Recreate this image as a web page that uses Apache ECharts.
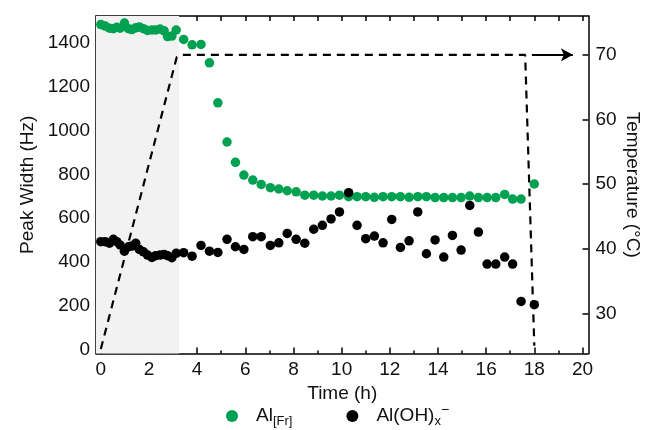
<!DOCTYPE html>
<html>
<head>
<meta charset="utf-8">
<script src="https://cdn.jsdelivr.net/npm/echarts@6.0.0/dist/echarts.min.js"></script>
<style>
html, body { margin: 0; padding: 0; background: #fff; }
#chart { width: 646px; height: 430px; }
</style>
</head>
<body>
<div id="chart"></div>
<script>
// heating phase, dense sampling (h)
var earlyTimes = [0, 0.18, 0.36, 0.52, 0.66, 0.8, 0.98, 1.15, 1.29, 1.45, 1.6, 1.77, 1.94, 2.12, 2.28, 2.46, 2.63, 2.77, 2.95, 3.13];
// after heating (h)
var laterTimes = [3.44, 3.79, 4.16, 4.51, 4.86, 5.24, 5.59, 5.94, 6.31, 6.66, 7.04, 7.39, 7.74, 8.11, 8.47, 8.84, 9.2, 9.56, 9.91, 10.29,
	10.64, 11.0, 11.36, 11.72, 12.08, 12.44, 12.8, 13.16, 13.52, 13.88, 14.24, 14.6, 14.96, 15.32, 15.68, 16.04, 16.4, 16.77, 17.1, 17.45, 18.0];

// Al[Fr] peak width (Hz)
var frEarly = [1485, 1478, 1468, 1466, 1472, 1468, 1492, 1466, 1462, 1470, 1474, 1466, 1458, 1460, 1460, 1464, 1456, 1430, 1432, 1460];
var frLater = [1417, 1392, 1394, 1310, 1127, 948, 855, 797, 774, 754, 739, 733, 725, 720, 705, 705, 701, 701, 705, 698,
	698, 698, 695, 698, 698, 698, 695, 698, 698, 694, 694, 694, 694, 701, 694, 694, 694, 708, 687, 687, 756];

// Al(OH)x- peak width (Hz)
var ohEarly = [492, 492, 485, 503, 492, 477, 449, 469, 472, 485, 457, 446, 431, 420, 428, 431, 434, 428, 419, 439];
var ohLater = [442, 426, 475, 449, 443, 503, 469, 457, 515, 515, 475, 487, 530, 503, 485, 549, 567, 596, 628, 716,
	567, 506, 518, 487, 594, 466, 496, 628, 437, 500, 422, 521, 454, 658, 536, 390, 390, 422, 390, 219, 204];

// temperature program (°C)
var tempTimes = [0, 3.15, 3.4, 17.62, 18.0];
var tempValues = [24.5, 69.6, 70, 70, 25];
var arrowTimes = [17.9, 19.6];
var arrowTemp = 70;
var heatedUntil = 3.25;

// ticks
var timeLabels = [0, 2, 4, 6, 8, 10, 12, 14, 16, 18, 20];
var timeMinor = [1, 3, 5, 7, 9, 11, 13, 15, 17, 19];
var timeAll = [0, 1, 2, 3, 4, 5, 6, 7, 8, 9, 10, 11, 12, 13, 14, 15, 16, 17, 18, 19, 20];
var hzLabels = [0, 200, 400, 600, 800, 1000, 1200, 1400];
var hzMinor = [100, 300, 500, 700, 900, 1100, 1300, 1500];
var tempLabels = [30, 40, 50, 60, 70];

var names = ['Al[Fr]', 'Al(OH)x\u2212'];

function pairs(xs, ys) {
	return xs.map(function(x, i) { return [x, ys[i]]; });
}
function plain(v) { return String(v); }

var FONT = '"Liberation Sans", Arial, sans-serif';
var INK = '#111';
var axisLine = { show: true, onZero: false, lineStyle: { color: '#000', width: 1.5 } };
var noLine = { show: false, onZero: false };
var tickStyle = { color: '#000', width: 1.5 };
var labelStyle = { fontSize: 19, color: INK, fontFamily: FONT };

var xRange = { min: -0.2, max: 20.25 };
var hzRange = { min: -19, max: 1524 };
var tempRange = { min: 23.8, max: 76 };

var chart = echarts.init(document.getElementById('chart'));

chart.setOption({
	animation: false,
	textStyle: { fontFamily: FONT },
	grid: { left: 96, right: 57.5, top: 16, bottom: 76.5, outerBoundsMode: 'none' },
	xAxis: [
		{
			type: 'value', min: xRange.min, max: xRange.max, position: 'bottom',
			name: 'Time (h)', nameLocation: 'middle', nameGap: 27,
			nameTextStyle: labelStyle,
			axisLine: axisLine,
			axisTick: { inside: true, length: 6, customValues: timeLabels, lineStyle: tickStyle },
			axisLabel: { customValues: timeLabels, formatter: plain, margin: 7, fontSize: 19, color: INK, fontFamily: FONT },
			splitLine: { show: false }
		},
		{
			type: 'value', min: xRange.min, max: xRange.max, position: 'bottom',
			axisLine: noLine,
			axisTick: { inside: true, length: 3, customValues: timeMinor, lineStyle: tickStyle },
			axisLabel: { show: false },
			splitLine: { show: false }
		},
		{
			type: 'value', min: xRange.min, max: xRange.max, position: 'top',
			axisLine: axisLine,
			axisTick: { inside: true, length: 5, customValues: timeAll, lineStyle: tickStyle },
			axisLabel: { show: false },
			splitLine: { show: false }
		}
	],
	yAxis: [
		{
			type: 'value', min: hzRange.min, max: hzRange.max, position: 'left',
			name: 'Peak Width (Hz)', nameLocation: 'middle', nameGap: 52,
			nameTextStyle: labelStyle,
			axisLine: axisLine,
			axisTick: { inside: true, length: 6, customValues: hzLabels, lineStyle: tickStyle },
			axisLabel: { customValues: hzLabels, formatter: plain, margin: 6, fontSize: 19, color: INK, fontFamily: FONT },
			splitLine: { show: false }
		},
		{
			type: 'value', min: hzRange.min, max: hzRange.max, position: 'left',
			axisLine: noLine,
			axisTick: { inside: true, length: 3, customValues: hzMinor, lineStyle: tickStyle },
			axisLabel: { show: false },
			splitLine: { show: false }
		},
		{
			type: 'value', min: tempRange.min, max: tempRange.max, position: 'right',
			name: 'Temperature (\u00b0C)', nameLocation: 'middle', nameRotate: -90, nameGap: 34,
			nameMoveOverlap: false,
			nameTextStyle: labelStyle,
			axisLine: axisLine,
			axisTick: { inside: true, length: 6, customValues: tempLabels, lineStyle: tickStyle },
			axisLabel: { customValues: tempLabels, formatter: plain, margin: 7, fontSize: 19, color: INK, fontFamily: FONT },
			splitLine: { show: false }
		}
	],
	legend: {
		data: names,
		icon: 'circle',
		left: 221, top: 398,
		itemWidth: 38, itemHeight: 12, itemGap: 54,
		textStyle: {
			fontSize: 19, color: INK, fontFamily: FONT,
			rich: {
				n: { fontSize: 19, color: INK, fontFamily: FONT },
				s: { fontSize: 13, color: INK, fontFamily: FONT, padding: [10, 0, 0, 0] },
				p: { fontSize: 14, color: INK, fontFamily: FONT, padding: [0, 0, 12, 0] }
			}
		},
		formatter: function(name) {
			return name === names[0] ? '{n|Al}{s|[Fr]}' : '{n|Al(OH)}{s|x}{p|\u2212}';
		}
	},
	series: [
		{
			name: 'temperature', type: 'line', yAxisIndex: 2,
			data: pairs(tempTimes, tempValues),
			symbol: 'none', silent: true,
			lineStyle: { color: '#000', width: 2.2, type: [8, 6] },
			markArea: {
				silent: true,
				itemStyle: { color: '#f2f2f2' },
				data: [[{ xAxis: xRange.min }, { xAxis: heatedUntil }]]
			},
			markLine: {
				silent: true,
				symbol: ['none', 'arrow'], symbolSize: [10, 12],
				label: { show: false },
				lineStyle: { color: '#000', width: 2, type: 'solid' },
				data: [[{ coord: [arrowTimes[0], arrowTemp] }, { coord: [arrowTimes[1], arrowTemp] }]]
			}
		},
		{
			name: names[0], type: 'scatter',
			data: pairs(earlyTimes, frEarly).concat(pairs(laterTimes, frLater)),
			symbolSize: 9.5,
			itemStyle: { color: '#00a150', opacity: 1 }
		},
		{
			name: names[1], type: 'scatter',
			data: pairs(earlyTimes, ohEarly).concat(pairs(laterTimes, ohLater)),
			symbolSize: 9.5,
			itemStyle: { color: '#000', opacity: 1 }
		}
	]
});
</script>
</body>
</html>
